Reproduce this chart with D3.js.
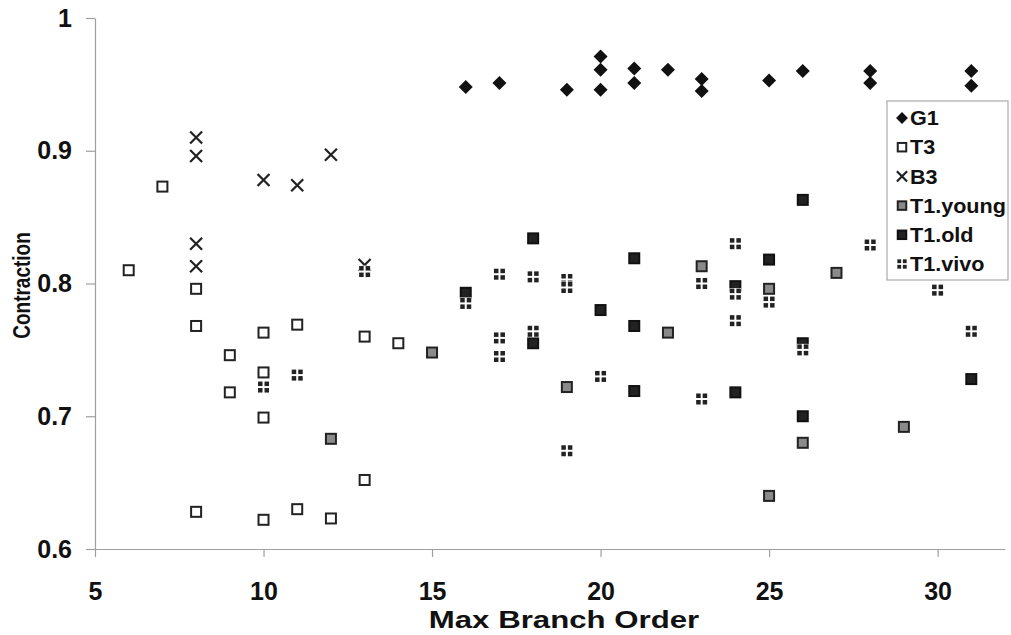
<!DOCTYPE html>
<html>
<head>
<meta charset="utf-8">
<script src="https://cdn.jsdelivr.net/npm/d3@7"></script>
<style>
  body { margin: 0; background: #fff; }
  svg { display: block; }
  text { font-family: "Liberation Sans", Arial, Helvetica, sans-serif; font-weight: bold; fill: #111; }
</style>
</head>
<body>
<svg id="chart" width="1011" height="635"></svg>
<script>
// Data
const seriesNames = ["G1", "T3", "B3", "T1.young", "T1.old", "T1.vivo"];

const g1X = [16, 17, 19, 20, 20, 20, 21, 21, 22, 23, 23, 25, 26, 28, 28, 31, 31];
const g1Y = [0.948, 0.951, 0.946, 0.946, 0.961, 0.971, 0.962, 0.951, 0.961, 0.954, 0.945, 0.953, 0.960, 0.960, 0.951, 0.960, 0.949];

const t3X = [6, 7, 8, 8, 8, 9, 9, 10, 10, 10, 10, 11, 11, 12, 13, 13, 14];
const t3Y = [0.810, 0.873, 0.796, 0.768, 0.628, 0.746, 0.718, 0.763, 0.733, 0.699, 0.622, 0.769, 0.630, 0.623, 0.760, 0.652, 0.755];

const b3X = [8, 8, 8, 8, 10, 11, 12, 13];
const b3Y = [0.910, 0.896, 0.830, 0.813, 0.878, 0.874, 0.897, 0.814];

const youngX = [12, 15, 19, 22, 23, 25, 25, 26, 27, 29];
const youngY = [0.683, 0.748, 0.722, 0.763, 0.813, 0.796, 0.640, 0.680, 0.808, 0.692];

const oldX = [16, 18, 18, 20, 21, 21, 21, 24, 24, 25, 26, 26, 26, 31];
const oldY = [0.793, 0.834, 0.755, 0.780, 0.819, 0.768, 0.719, 0.798, 0.718, 0.818, 0.863, 0.755, 0.700, 0.728];

const vivoX = [10, 11, 13, 16, 17, 17, 17, 18, 18, 19, 19, 19, 20, 23, 23, 24, 24, 24, 25, 26, 28, 30, 31];
const vivoY = [0.722, 0.731, 0.809, 0.785, 0.807, 0.759, 0.745, 0.805, 0.764, 0.803, 0.797, 0.674, 0.730, 0.800, 0.713, 0.830, 0.792, 0.772, 0.786, 0.750, 0.829, 0.795, 0.764];

const xTicks = [5, 10, 15, 20, 25, 30];
const yTicks = [0.6, 0.7, 0.8, 0.9, 1];
const yTickLabels = ["0.6", "0.7", "0.8", "0.9", "1"];

const svg = d3.select("#chart"),
      margin = {top: 18, right: 6, bottom: 86, left: 95},
      width = +svg.attr("width"),
      height = +svg.attr("height");

const x = d3.scaleLinear().domain([5, 32]).range([margin.left, width - margin.right]);
const y = d3.scaleLinear().domain([0.6, 1]).range([height - margin.bottom, margin.top]);

// Axes
const xAxis = svg.append("g")
    .attr("transform", `translate(0,${y(0.6)})`)
    .call(d3.axisBottom(x).tickValues(xTicks).tickSize(8).tickSizeOuter(0).tickPadding(25));

const yAxis = svg.append("g")
    .attr("transform", `translate(${x(5)},0)`)
    .call(d3.axisLeft(y).tickValues(yTicks).tickFormat((d, i) => yTickLabels[i])
        .tickSize(9).tickSizeOuter(0).tickPadding(14));

[xAxis, yAxis].forEach(a => {
    a.selectAll("path, line").attr("stroke", "#a0a0a0").attr("stroke-width", 1.2);
    a.selectAll("text").attr("font-size", "25px").attr("fill", "#111")
        .style("font-family", "'Liberation Sans', Arial, sans-serif").style("font-weight", "bold");
});

// the source picture is stretched sideways, so the titles are too
svg.append("text")
    .attr("transform", `translate(${(x(5) + x(32)) / 2 + 14},628) scale(1.3,1)`)
    .attr("text-anchor", "middle")
    .attr("font-size", "24px")
    .text("Max Branch Order");

svg.append("text")
    .attr("transform", `translate(30,${(y(0.6) + y(1)) / 2 + 2}) rotate(-90) scale(1,1.25)`)
    .attr("text-anchor", "middle")
    .attr("font-size", "19px")
    .text("Contraction");

// Marker drawing, s = scale factor
function drawMarker(g, name, s) {
    if (name === "G1") {
        g.append("path").attr("d", `M0,${-7 * s}L${7 * s},0L0,${7 * s}L${-7 * s},0Z`).attr("fill", "#111");
    } else if (name === "T3") {
        g.append("rect").attr("x", -5 * s).attr("y", -5 * s).attr("width", 10 * s).attr("height", 10 * s)
            .attr("fill", "#fff").attr("stroke", "#222").attr("stroke-width", 2);
    } else if (name === "B3") {
        g.append("path").attr("d", `M${-6 * s},${-6 * s}L${6 * s},${6 * s}M${6 * s},${-6 * s}L${-6 * s},${6 * s}`)
            .attr("stroke", "#222").attr("stroke-width", 2.2).attr("fill", "none");
    } else if (name === "T1.young") {
        g.append("rect").attr("x", -5 * s).attr("y", -5 * s).attr("width", 10 * s).attr("height", 10 * s)
            .attr("fill", "#8a8a8a").attr("stroke", "#222").attr("stroke-width", 2);
    } else if (name === "T1.old") {
        g.append("rect").attr("x", -5 * s).attr("y", -5 * s).attr("width", 10 * s).attr("height", 10 * s)
            .attr("fill", "#222").attr("stroke", "#111").attr("stroke-width", 2);
    } else if (name === "T1.vivo") {
        g.append("rect").attr("x", -6 * s).attr("y", -6 * s).attr("width", 12 * s).attr("height", 12 * s).attr("fill", "#fff");
        [[-5.5, -5.5], [1, -5.5], [-5.5, 1], [1, 1]].forEach(([dx, dy]) => {
            g.append("rect").attr("x", dx * s).attr("y", dy * s).attr("width", 4.5 * s).attr("height", 4.5 * s).attr("fill", "#222");
        });
    }
}

const seriesData = [
    {name: "T3", xs: t3X, ys: t3Y},
    {name: "B3", xs: b3X, ys: b3Y},
    {name: "T1.young", xs: youngX, ys: youngY},
    {name: "T1.old", xs: oldX, ys: oldY},
    {name: "G1", xs: g1X, ys: g1Y},
    {name: "T1.vivo", xs: vivoX, ys: vivoY}
];

seriesData.forEach(sr => {
    const pts = sr.xs.map((v, i) => ({x: v, y: sr.ys[i]}));
    svg.append("g").selectAll("g")
        .data(pts)
        .join("g")
        .attr("transform", d => `translate(${x(d.x)},${y(d.y)})`)
        .each(function() { drawMarker(d3.select(this), sr.name, 1); });
});

// Legend
const legend = svg.append("g").attr("transform", "translate(887,101)");
legend.append("rect")
    .attr("x", 0).attr("y", 0).attr("width", 121).attr("height", 179)
    .attr("fill", "#fff").attr("stroke", "#aaa").attr("stroke-width", 1.2);

seriesNames.forEach((name, i) => {
    const row = legend.append("g").attr("transform", `translate(15,${17 + i * 29.2})`);
    drawMarker(row.append("g"), name, 0.85);
    row.append("text")
        .attr("transform", "translate(8,0) scale(1.08,1)")
        .attr("dy", "0.36em")
        .attr("font-size", "20px")
        .text(name);
});
</script>
</body>
</html>
